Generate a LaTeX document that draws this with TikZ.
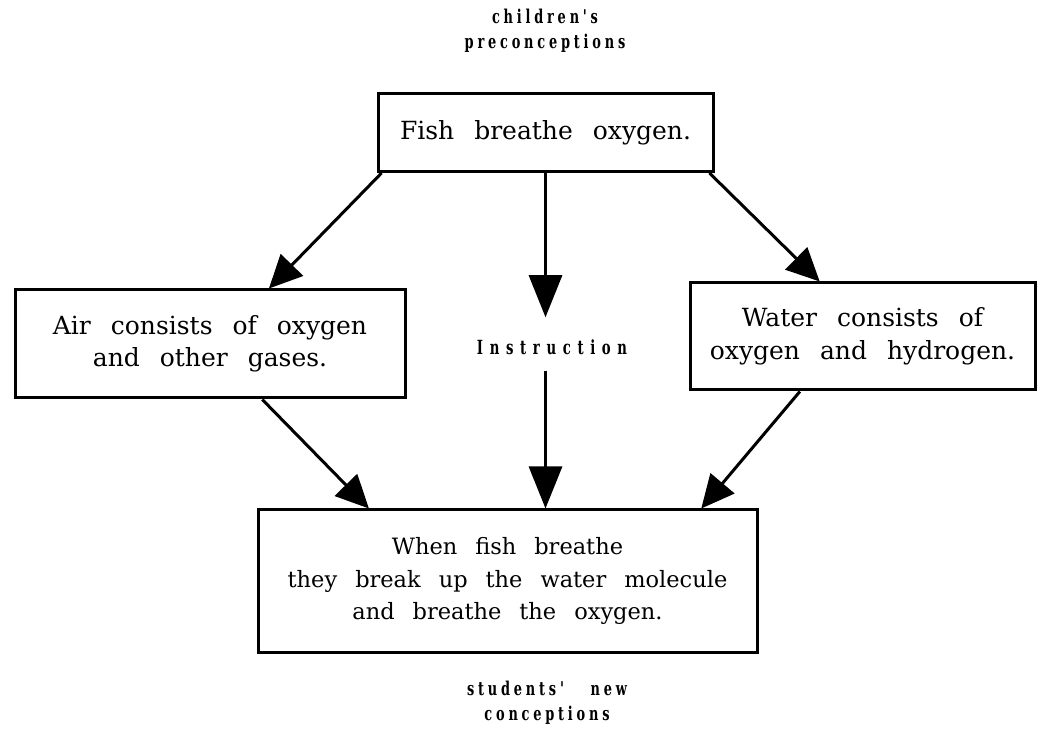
\documentclass[tikz,border=0pt]{standalone}
\usepackage{fontspec}
\setmainfont{DejaVu Serif}
\newfontfamily\lblfont[LetterSpace=20,FakeStretch=0.68]{DejaVu Serif}
\newfontfamily\insfont[LetterSpace=34,FakeStretch=0.68]{DejaVu Serif}
\usetikzlibrary{arrows.meta,calc}
\newcommand\boxfnt[1]{\fontsize{#1}{32.5}\selectfont\spaceskip 0.8em plus 0.1em\relax}
\newcommand\lblfnt{\lblfont\bfseries\fontsize{19}{24.5}\selectfont}
\newcommand\insfnt{\insfont\bfseries\fontsize{19.5}{24}\selectfont}
\tikzset{
  box/.style={draw, line width=3pt, rectangle, inner sep=0pt, align=center, font={\boxfnt{25}}},
  lbl/.style={align=center, inner sep=0pt, font={\lblfnt}},
  arr/.style={line width=3pt, -{Triangle[length=33pt,width=31pt]}},
  arrv/.style={line width=3pt, -{Triangle[length=42pt,width=33pt]}}
}
\begin{document}
\begin{tikzpicture}[x=1pt,y=1pt]
\useasboundingbox (0,0) rectangle (1038,731);
% labels
\node[lbl] (pre) at (545,731-31) {children's\\preconceptions};
\node[lbl] (post) at (547,731-703) {students'\hspace{1.4em}new\\conceptions};
% boxes
\node[box, minimum width=335pt, minimum height=78pt] (top) at (545.5,731-132.5) {Fish breathe oxygen.};
\node[box, minimum width=390pt, minimum height=108pt] (left) at (210,731-344) {Air consists of oxygen\\and other gases.};
\node[box, minimum width=345pt, minimum height=107pt] (right) at (862.5,731-336.5) {Water consists of\\oxygen and hydrogen.};
\node[box, minimum width=499pt, minimum height=142pt, font={\boxfnt{22.5}}] (bot) at (507.5,731-581) {When fish breathe\\they break up the water molecule\\and breathe the oxygen.};
\node[lbl, font={\insfnt}] (instr) at (552,731-347) {Instruction};
% arrows
\draw[arr] ($(top.south west)!0.015!(top.south east)$) -- ($(left.north west)!0.65!(left.north east)$);
\draw[arr] ($(top.south west)!0.985!(top.south east)$) -- ($(right.north west)!0.377!(right.north east)$);
\draw[arrv, shorten >=22pt] (top.south) -- (top.south |- instr.north);
\draw[arrv, shorten <=16pt] (top.south |- instr.south) -- (top.south |- bot.north);
\draw[arr] ($(left.south west)!0.633!(left.south east)$) -- ($(bot.north west)!0.224!(bot.north east)$);
\draw[arr] ($(right.south west)!0.32!(right.south east)$) -- ($(bot.north west)!0.886!(bot.north east)$);
\end{tikzpicture}
\end{document}
